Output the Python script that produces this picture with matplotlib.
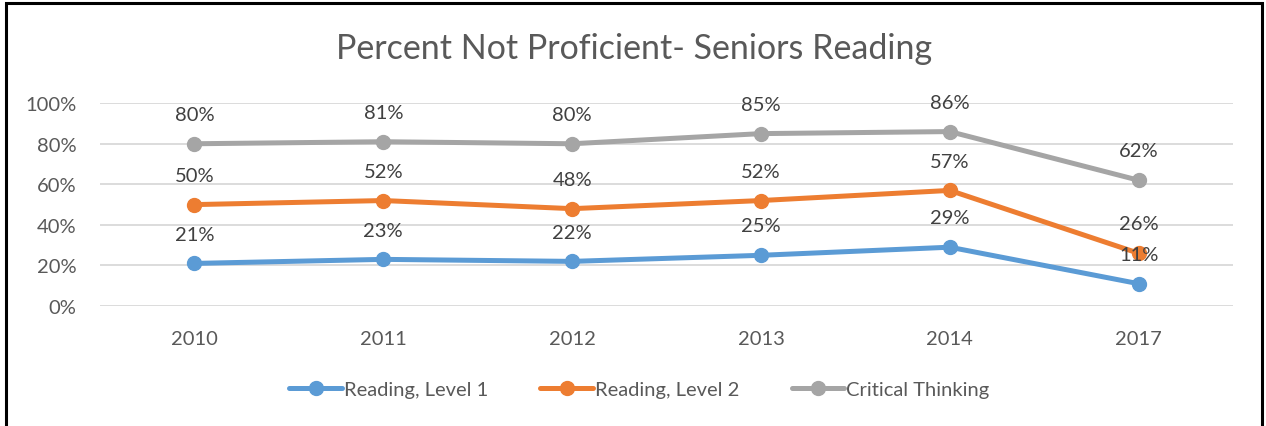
import matplotlib.pyplot as plt
from matplotlib.patches import Rectangle

years = ['2010', '2011', '2012', '2013', '2014', '2017']
level1 = [21, 23, 22, 25, 29, 11]
level2 = [50, 52, 48, 52, 57, 26]
critical = [80, 81, 80, 85, 86, 62]

series = [
    ('Reading, Level 1', level1, '#5B9BD5'),
    ('Reading, Level 2', level2, '#ED7D31'),
    ('Critical Thinking', critical, '#A5A5A5'),
]

plt.rcParams['font.family'] = ['Lato', 'DejaVu Sans']

fig = plt.figure(figsize=(12.66, 4.27), dpi=100)
ax = fig.add_axes([0.079, 0.281, 0.895, 0.475])

x = list(range(len(years)))
for name, vals, col in series:
    ax.plot(x, vals, color=col, lw=3.6, marker='o', ms=10, label=name,
            solid_capstyle='round', zorder=3)
    for xi, v in zip(x, vals):
        ax.annotate(f'{v}%', (xi, v), xytext=(0, 15), textcoords='offset points',
                    ha='center', va='bottom', fontsize=14.5, color='#404040',
                    zorder=4)

ax.set_xlim(-0.5, len(years) - 0.5)
ax.set_ylim(0, 100)
ax.set_yticks(range(0, 101, 20))
ax.set_yticklabels([f'{v}%' for v in range(0, 101, 20)])
ax.set_xticks(x)
ax.set_xticklabels(years)
ax.tick_params(length=0, labelsize=14.5, labelcolor='#595959')
ax.tick_params(axis='y', pad=17)
ax.tick_params(axis='x', pad=17)
ax.grid(axis='y', color='#D9D9D9', lw=1.3)
ax.set_axisbelow(True)
for s in ax.spines.values():
    s.set_visible(False)

fig.text(0.501, 0.885, 'Percent Not Proficient- Seniors Reading', ha='center',
         va='center', fontsize=24.5, color='#595959')

fig.legend(loc='center', bbox_to_anchor=(0.505, 0.085), ncol=3, frameon=False,
           fontsize=14.5, labelcolor='#595959', handlelength=2.6,
           handletextpad=0.1, columnspacing=2.6)

fig.patches.append(Rectangle((0.005, -0.01), 0.992, 1.0, transform=fig.transFigure,
                             fill=False, ec='black', lw=2.2))

fig.savefig('out.png', dpi=100)
plt.close(fig)
